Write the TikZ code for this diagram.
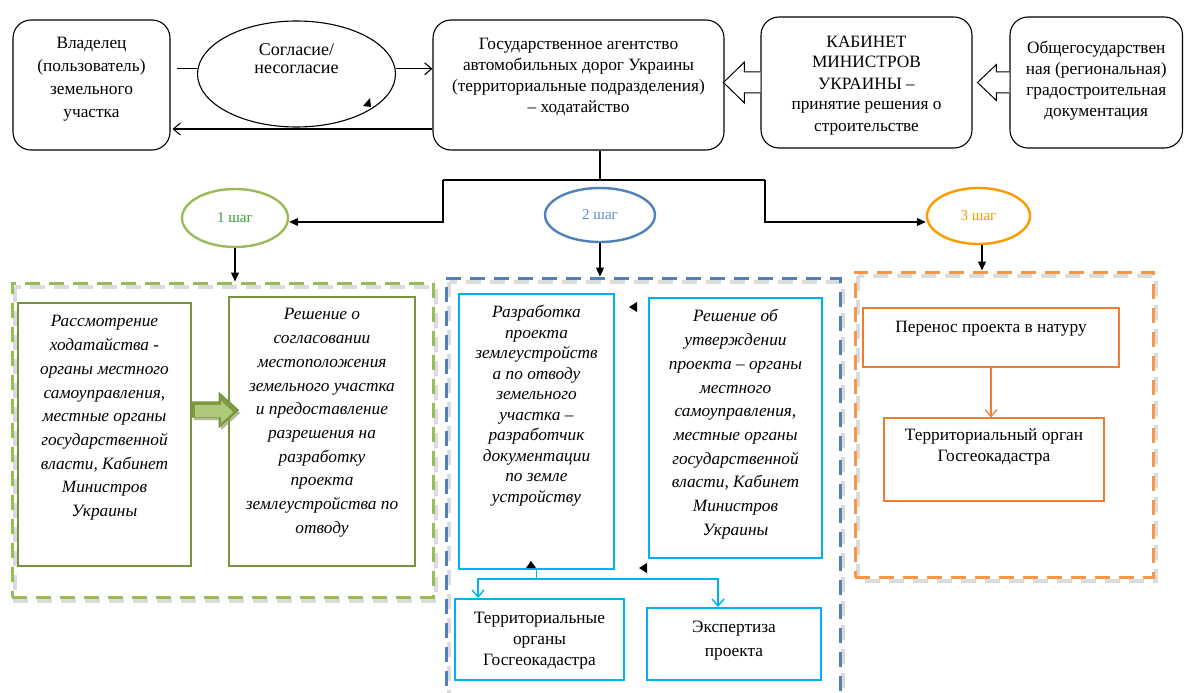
\documentclass[tikz,border=0pt]{standalone}
\usepackage{fontspec}
\setmainfont{Liberation Serif}
\usetikzlibrary{shapes.geometric,arrows.meta,calc}
\definecolor{lgreen}{HTML}{9BBB59}
\definecolor{dgreen}{HTML}{77933C}
\definecolor{tgreen}{HTML}{3A9A3A}
\definecolor{mblue}{HTML}{4F81BD}
\definecolor{tblue}{HTML}{5B8FD0}
\definecolor{cyanb}{HTML}{00B0F0}
\definecolor{lorange}{HTML}{F79646}
\definecolor{borange}{HTML}{FF9A00}
\definecolor{dorange}{HTML}{ED7D31}
\definecolor{shadowgray}{HTML}{B0B0B0}
\newcommand\cellbox[4]{\parbox[c][#2][t]{#1}{\centering\vspace*{#3}\strut #4\par}}
\begin{document}
\begin{tikzpicture}[x=1pt,y=-1pt,
  tbox/.style={draw, rounded corners=18pt, line width=1.1pt, inner sep=0pt},
  gbox/.style={draw=dgreen, line width=2.4pt, inner sep=0pt},
  cbox/.style={draw=cyanb, line width=1.6pt, inner sep=0pt},
  obox/.style={draw=dorange, line width=1.2pt, inner sep=0pt},
  stepell/.style={ellipse, line width=2.4pt, inner sep=0pt, font=\fontsize{15}{17}\selectfont},
  cont/.style={rectangle, inner sep=0pt, line width=3pt, dash pattern=on 15pt off 9pt},
  openarrow/.style={-{Straight Barb[length=7pt,width=12pt]}, line width=1.1pt},
  triarrow/.style={-{Triangle[length=9pt,width=8pt]}, line width=1.2pt},
  hollow/.style={draw, fill=white, line width=1pt, line join=miter},
  shad/.style={draw=shadowgray, opacity=0.45, line width=4.5pt, dash pattern=on 15pt off 9pt}
]
\useasboundingbox (0,0) rectangle (1184,693);
\fill[white] (0,0) rectangle (1184,693);

% ---------- top row ----------
\node[tbox, font=\fontsize{17.3}{23}\selectfont] (vlad) at (91.5,85)
  {\cellbox{157pt}{130pt}{12.9pt}{Владелец\\(пользователь)\\земельного\\участка}};
\node[draw, ellipse, line width=1.1pt, minimum width=167pt, minimum height=106pt, inner sep=0pt,
  font=\fontsize{18}{18.5}\selectfont] (sogl) at (296.5,74)
  {\raisebox{11pt}[0pt][0pt]{\parbox[c]{140pt}{\centering Согласие/\\несогласие}}};
\node[tbox, font=\fontsize{17.3}{20.8}\selectfont] (agency) at (578.5,85)
  {\cellbox{291pt}{130pt}{15.4pt}{Государственное агентство\\автомобильных дорог Украины\\(территориальные подразделения)\\– ходатайство}};
\node[tbox, font=\fontsize{17.3}{21}\selectfont] (cab) at (866.5,82.5)
  {\cellbox{211pt}{131pt}{15.3pt}{КАБИНЕТ\\МИНИСТРОВ\\УКРАИНЫ –\\принятие решения о\\строительстве}};
\node[tbox, font=\fontsize{17.3}{21.3}\selectfont] (obs) at (1096.25,82.5)
  {\cellbox{172.5pt}{131pt}{21.1pt}{Общегосударствен\\ная (региональная)\\градостроительная\\документация}};

\draw[line width=1.1pt] ([xshift=6pt]vlad.east |- sogl.177) -- (sogl.177);
\draw[openarrow] (sogl.3) -- (agency.west |- sogl.3);
\coordinate (ab) at ([yshift=-44pt]agency.west);
\draw[openarrow] (ab) -- ([xshift=2pt]vlad.east |- ab);
\fill (370,98) -- (363,106) -- (371,107) -- cycle;

% hollow block arrows
\draw[hollow] ($(cab.west)+(0,-10.5)$) -- ++(-16,0) -- ++(0,-10) -- ++(-21,20.5) -- ++(21,20.5) -- ++(0,-10) -- ++(16,0);
\draw[hollow] ($(obs.west)+(0,-10.5)$) -- ++(-13,0) -- ++(0,-7.5) -- ++(-19,18) -- ++(19,18) -- ++(0,-7.5) -- ++(13,0);

% ---------- step ellipses ----------
\node[stepell, draw=lgreen, text=tgreen, minimum width=106pt, minimum height=58pt] (step1) at (235,218) {1 шаг};
\node[stepell, draw=mblue, text=tblue, minimum width=110pt, minimum height=54pt] (step2) at (600,215) {2 шаг};
\node[stepell, draw=borange, text=borange, minimum width=103pt, minimum height=56pt] (step3) at (978.5,216) {3 шаг};

\draw[line width=1.2pt] ([xshift=21.5pt]agency.south) -- ++(0,30) coordinate (jc);
\coordinate (jl) at (443,180);
\coordinate (jr) at (765,180);
\draw[line width=1.2pt] (jl) -- (jr);
\draw[triarrow] (jl) |- ([yshift=-4pt]step1.east);
\draw[triarrow] (jr) |- ([yshift=-6pt]step3.west);

% ---------- containers ----------
\path[shad] (15,287) rectangle (436,601);
\path[shad] (449,282) rectangle (843,708);
\path[shad] (858,276) rectangle (1156,581);
\node[cont, draw=lgreen, minimum width=421pt, minimum height=314pt] (gcont) at (222.5,440) {};
\node[cont, draw=mblue, minimum width=394pt, minimum height=427pt] (bcont) at (643,491.5) {};
\node[cont, draw=lorange, minimum width=298pt, minimum height=305pt] (ocont) at (1004,424.5) {};

\draw[triarrow] (step1.south) -- (step1.south |- gcont.north);
\draw[triarrow] (step2.south) -- (step2.south |- bcont.north);
\draw[triarrow] ([xshift=3.5pt]step3.south) -- ([xshift=3.5pt]step3.south |- ocont.north);

% ---------- step 1 ----------
\node[gbox, font=\itshape\fontsize{17.3}{23.7}\selectfont] (g1) at (104.5,434.5)
  {\cellbox{173pt}{263pt}{7.4pt}{Рассмотрение\\ходатайства -\\органы местного\\самоуправления,\\местные органы\\государственной\\власти, Кабинет\\Министров\\Украины}};
\node[gbox, font=\itshape\fontsize{17.3}{23.7}\selectfont] (g2) at (322,431.5)
  {\cellbox{186pt}{269pt}{6.4pt}{Решение о\\согласовании\\местоположения\\земельного участка\\и предоставление\\разрешения на\\разработку\\проекта\\землеустройства по\\отводу}};
\fill[dgreen!60!shadowgray, opacity=0.7] ($(g1.east)+(2,-29.5)$) -- ++(27,0) -- ++(0,-9) -- ++(19,17) -- ++(-19,17) -- ++(0,-10) -- ++(-27,0) -- cycle;
\filldraw[draw=dgreen, fill=dgreen!80!lgreen, line width=1.2pt, line join=miter] ($(g1.east)+(0,-32.5)$) -- ++(27,0) -- ++(0,-9) -- ++(19,17) -- ++(-19,17) -- ++(0,-10) -- ++(-27,0) -- cycle;
\fill[lgreen!80!white] ($(g1.east)+(3,-29.5)$) -- ++(26,0) -- ++(0,-4) -- ++(12,11) -- ++(-12,11) -- ++(0,-6) -- ++(-26,0) -- cycle;

% ---------- step 2 ----------
\node[cbox, font=\itshape\fontsize{17.3}{20.5}\selectfont] (razr) at (536.5,431.5)
  {\cellbox{155pt}{275pt}{9.6pt}{Разработка\\проекта\\землеустройств\\а по отводу\\земельного\\участка –\\разработчик\\документации\\по земле\\устройству}};
\node[cbox, line width=2.6pt, font=\itshape\fontsize{17.3}{23.7}\selectfont] (resh) at (735.5,428)
  {\cellbox{173pt}{260pt}{7.4pt}{Решение об\\утверждении\\проекта – органы\\местного\\самоуправления,\\местные органы\\государственной\\власти, Кабинет\\Министров\\Украины}};
\node[cbox, line width=2pt, font=\fontsize{17.3}{21.3}\selectfont] (terr) at (539.5,639.5)
  {\cellbox{169pt}{81pt}{9.3pt}{Территориальные\\органы\\Госгеокадастра}};
\node[cbox, line width=2pt, font=\fontsize{17.3}{24}\selectfont] (exp) at (734,644)
  {\cellbox{174pt}{72pt}{8pt}{Экспертиза\\проекта}};
\draw[cyanb, line width=1.4pt] (razr.south) -- ++(0,9) coordinate (cj);
\draw[cyanb, openarrow, line width=1.4pt] (cj) -| ([xshift=-61.5pt]terr.north);
\draw[cyanb, openarrow, line width=1.4pt] (cj) -| ([xshift=-16pt]exp.north);
\fill (629,307) -- (637,302) -- (637,312) -- cycle;
\fill (531,561) -- (526,568) -- (536,568) -- cycle;
\fill (639,568) -- (647,563) -- (647,573) -- cycle;

% ---------- step 3 ----------
\node[obox, font=\fontsize{17.3}{21}\selectfont] (per) at (991,337.5)
  {\cellbox{256pt}{59pt}{9.3pt}{Перенос проекта в натуру}};
\node[obox, font=\fontsize{17.3}{21}\selectfont] (ter3) at (994,459.5)
  {\cellbox{220pt}{83pt}{7.3pt}{Территориальный орган\\Госгеокадастра}};
\draw[dorange, openarrow, line width=1.2pt] (per.south) -- (per.south |- ter3.north);
\end{tikzpicture}
\end{document}
